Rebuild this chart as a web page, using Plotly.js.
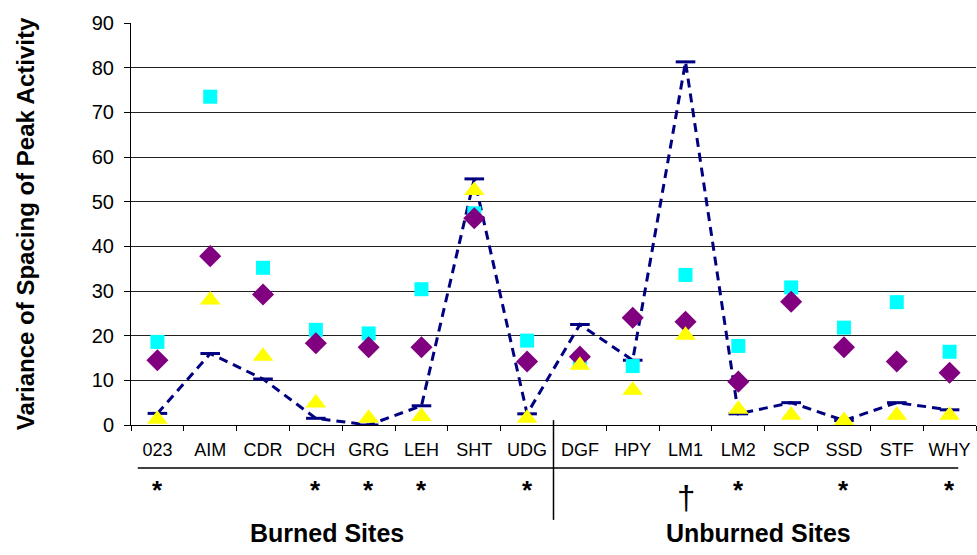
<!DOCTYPE html>
<html><head><meta charset="utf-8">
<script src="https://cdn.plot.ly/plotly-3.0.1.min.js"></script>
<style>body{margin:0;background:#fff}#c{width:977px;height:555px}</style>
</head><body><div id="c"></div>
<script>
const sites = ['023','AIM','CDR','DCH','GRG','LEH','SHT','UDG','DGF','HPY','LM1','LM2','SCP','SSD','STF','WHY'];
const cyanVals   = [18.6,73.5,35.2,21.3,20.5,30.4,47.4,18.9,14.8,13.2,33.6,17.7,30.8,21.8,27.5,16.4];
const purpleVals = [14.5,37.8,29.2,18.3,17.4,17.4,46.3,14.2,15.3,24.0,23.1,9.7,27.6,17.4,14.2,11.7];
const yellowVals = [1.3,28.0,15.4,4.9,1.5,1.9,52.5,1.5,13.4,7.8,20.1,3.5,2.2,1.0,2.2,2.2];
const dashVals   = [2.6,16.0,10.3,1.5,0.0,4.3,55.1,2.5,22.5,14.5,81.3,2.5,5.0,1.0,5.0,3.4];
const sigMarks   = ['*','','','*','*','*','','*','','','†','*','','*','','*'];
const groupLabels = ['Burned Sites','Unburned Sites'];
const yTitle = 'Variance of Spacing of Peak Activity';

const F = 'Arial, Liberation Sans, sans-serif';
const traces = [
  {x:sites,y:dashVals,type:'scatter',mode:'lines+markers',
   line:{color:'#000080',width:3,dash:'9px,6px'},
   marker:{symbol:'line-ew',size:14,line:{color:'#000080',width:3}},hoverinfo:'y'},
  {x:sites,y:cyanVals,type:'scatter',mode:'markers',
   marker:{symbol:'square',size:14,color:'#00FFFF'}},
  {x:sites,y:purpleVals,type:'scatter',mode:'markers',
   marker:{symbol:'diamond',size:17,color:'#800080'}},
  {x:sites,y:yellowVals,type:'scatter',mode:'markers',
   marker:{symbol:'triangle-up',size:18,color:'#FFFF00'}}
];
const ann = [];
sigMarks.forEach((m,i)=>{ if(!m) return;
  if(m==='†') ann.push({x:i,xref:'x',yref:'paper',y:-0.18,yanchor:'middle',text:m,showarrow:false,font:{family:F,size:33,color:'#000'}});
  else ann.push({x:i,xref:'x',yref:'paper',y:-0.162,yanchor:'middle',text:'<b>'+m+'</b>',showarrow:false,font:{family:F,size:26,color:'#000'}});
});
ann.push({x:3.22,xref:'x',yref:'paper',y:-0.268,yanchor:'middle',text:'<b>'+groupLabels[0]+'</b>',showarrow:false,font:{family:F,size:25,color:'#000'}});
ann.push({x:11.38,xref:'x',yref:'paper',y:-0.268,yanchor:'middle',text:'<b>'+groupLabels[1]+'</b>',showarrow:false,font:{family:F,size:25,color:'#000'}});
const layout = {
  width:977,height:555,margin:{l:131,r:1,t:23,b:130},
  paper_bgcolor:'#fff',plot_bgcolor:'#fff',showlegend:false,
  xaxis:{type:'category',range:[-0.5,15.5],showgrid:false,showline:true,linecolor:'#000',linewidth:1,
    ticks:'outside',tickson:'boundaries',ticklen:5,tickcolor:'#000',
    tickfont:{family:F,size:18,color:'#000'},ticklabelstandoff:8,zeroline:false},
  yaxis:{range:[0,90],dtick:10,showgrid:true,gridcolor:'#222',gridwidth:1,showline:true,linecolor:'#000',
    ticks:'outside',ticklen:6,tickcolor:'#000',tickfont:{family:F,size:20,color:'#000'},ticklabelstandoff:6,zeroline:false,
    title:{text:'<b>'+yTitle+'</b>',font:{family:F,size:24,color:'#000'},standoff:50}},
  annotations:ann,
  shapes:[
    {type:'line',xref:'x',yref:'paper',x0:7.5,x1:7.5,y0:0.012,y1:-0.236,line:{color:'#000',width:1.5}},
    {type:'line',xref:'paper',yref:'paper',x0:0.008,x1:0.979,y0:-0.107,y1:-0.107,line:{color:'#000',width:1.5}}
  ]
};
Plotly.newPlot('c',traces,layout,{displayModeBar:false,staticPlot:true});
</script></body></html>
